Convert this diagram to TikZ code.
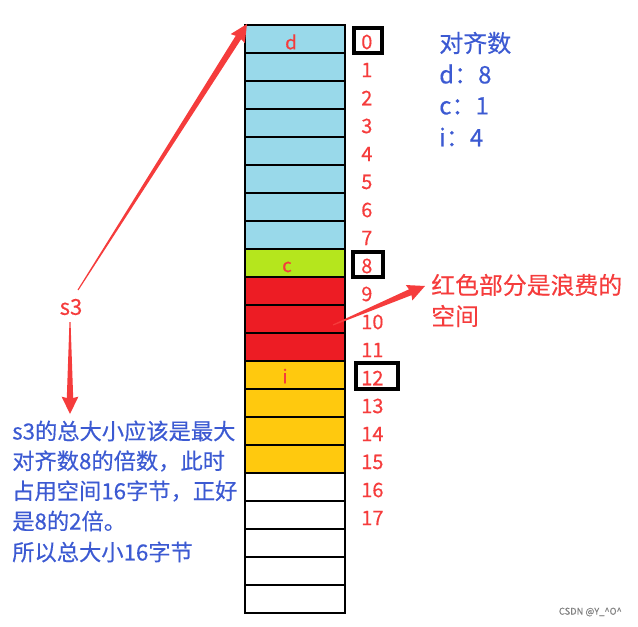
\documentclass[tikz,border=0pt]{standalone}
\usepackage{fontspec}
\setmainfont{Noto Sans CJK SC}[FakeBold=0.4]
\usetikzlibrary{calc}
\definecolor{cblue}{RGB}{153,217,234}
\definecolor{cgreen}{RGB}{181,230,29}
\definecolor{cred}{RGB}{237,28,36}
\definecolor{cyel}{RGB}{255,201,14}
\definecolor{tred}{RGB}{245,60,60}
\definecolor{tblue}{RGB}{60,90,210}
\newcommand{\taperarrow}[2]{% #1 start, #2 tip
  \path ($(#2)!12pt!(#1)$) coordinate (hb) ($(#2)!13pt!(#1)$) coordinate (hc);
  \fill[tred] ($(#1)!0.4pt!90:(#2)$) -- ($(hb)!2.4pt!90:(#2)$) -- ($(hc)!6.3pt!90:(#2)$) -- (#2)
    -- ($(hc)!6.3pt!-90:(#2)$) -- ($(hb)!2.4pt!-90:(#2)$) -- ($(#1)!0.4pt!-90:(#2)$) -- cycle;
}
\begin{document}
\begin{tikzpicture}[x=0.75pt,y=-0.75pt,
  cell/.style={draw=black,line width=1.1pt},
  num/.style={text=tred,inner sep=0pt,font=\fontsize{15}{16}\selectfont},
  lab/.style={text=tred,inner sep=0pt,font=\fontsize{14}{16}\selectfont},
  box/.style={draw=black,line width=2.4pt},
  bluetxt/.style={text=tblue,inner sep=0pt,anchor=west,font=\fontsize{18}{20}\selectfont},
  redtxt/.style={text=tred,inner sep=0pt,anchor=west,font=\fontsize{17.9}{20}\selectfont},
  notetxt/.style={text=tblue,inner sep=0pt,anchor=west,font=\fontsize{16.7}{20}\selectfont}]
\useasboundingbox (0,0) rectangle (638,627);
% memory column
\foreach \i in {0,...,7} \path[cell,fill=cblue] (245,{25+28*\i}) rectangle ++(100,28);
\path[cell,fill=cgreen] (245,249) rectangle ++(100,28);
\foreach \i in {9,10,11} \path[cell,fill=cred] (245,{25+28*\i}) rectangle ++(100,28);
\foreach \i in {12,...,15} \path[cell,fill=cyel] (245,{25+28*\i}) rectangle ++(100,28);
\foreach \i in {16,...,20} \path[cell,fill=white] (245,{25+28*\i}) rectangle ++(100,28);
\coordinate (top) at (247,24);
% member labels
\node[lab] (ld) at (291,42) {d};
\node[lab] (lc) at (287,267) {c};
\node[lab] (li) at (285,376) {i};
% offsets
\foreach \i in {0,...,17} \node[num,anchor=west] (n\i) at (361,{42+28*\i}) {\i};
\draw[box] (354,28) rectangle (382,53);
\draw[box] (353,252) rectangle (383,277);
\draw[box] (356,363) rectangle (398,389);
% alignment numbers
\node[bluetxt] (al0) at (439,43) {对齐数};
\node[bluetxt] (al1) at (439,74) {d：8};
\node[bluetxt] (al2) at (439,106) {c：1};
\node[bluetxt] (al3) at (439,137) {i：4};
% waste note
\node[redtxt] (w1) at (431,285) {红色部分是浪费的};
\node[redtxt] (w2) at (431,316) {空间};
\coordinate (wstart) at (333,325);
\coordinate (wtip) at (425,286);
\taperarrow{wstart}{wtip}
% s3
\node[text=tred,inner sep=0pt,font=\fontsize{16.5}{18}\selectfont] (s3) at (71,307) {s3};
\coordinate (s3up) at (78,290);
\taperarrow{s3up}{top}
\coordinate (s3dn) at (70,322);
\coordinate (notetop) at (70,414);
\taperarrow{s3dn}{notetop}
% note
\node[notetxt] (m1) at (12,431) {s3的总大小应该是最大};
\node[notetxt] (m2) at (12,461) {对齐数8的倍数，此时};
\node[notetxt] (m3) at (12,491) {占用空间16字节，正好};
\node[notetxt] (m4) at (12,521) {是8的2倍。};
\node[notetxt] (m5) at (12,552) {所以总大小16字节};
% watermark
\node[text=gray,inner sep=0pt,anchor=east,font=\fontsize{7}{8}\selectfont] (wm) at (622,612) {CSDN @Y\_\textasciicircum O\textasciicircum};
\end{tikzpicture}
\end{document}
